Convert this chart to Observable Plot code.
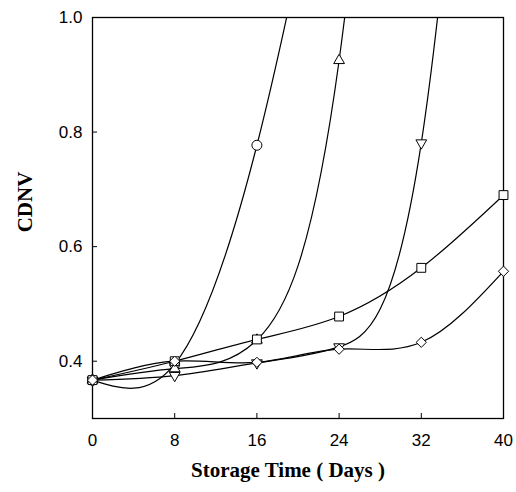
<!DOCTYPE html>
<html>
<head>
<meta charset="utf-8">
<script src="https://cdn.jsdelivr.net/npm/d3@7"></script>
<script src="https://cdn.jsdelivr.net/npm/@observablehq/plot@0.6"></script>
<style>
  html, body { margin: 0; padding: 0; background: #fff; }
  #chart { width: 516px; height: 492px; }
</style>
</head>
<body>
<div id="chart"></div>
<script>
// Storage time (days)
const days = [0, 8, 16, 24, 32, 40];
// CDNV values per treatment (values > 1.0 lie above the plotted range)
const circleVals   = [0.367, 0.395, 0.777, 1.45];
const triUpVals    = [0.367, 0.387, 0.437, 0.925, 2.5];
const triDownVals  = [0.367, 0.375, 0.397, 0.425, 0.781, 2.3];
const squareVals   = [0.367, 0.400, 0.438, 0.478, 0.563, 0.690];
const diamondVals  = [0.367, 0.400, 0.398, 0.421, 0.433, 0.557];
const xTicks = [0, 8, 16, 24, 32, 40];
const yTicks = [0.4, 0.6, 0.8, 1.0];
const xLabel = "Storage Time ( Days )";
const yLabel = "CDNV";

const seriesDefs = [
  {vals: circleVals,  symbol: "circle",   r: 5,   rotate: 0},
  {vals: triUpVals,   symbol: "triangle", r: 4,   rotate: 0},
  {vals: triDownVals, symbol: "triangle", r: 4,   rotate: 180},
  {vals: squareVals,  symbol: "square",   r: 5,   rotate: 0},
  {vals: diamondVals, symbol: "diamond2", r: 4.6, rotate: 0}
];
const toRows = vals => vals.map((v, i) => ({day: days[i], v}));

const marks = [];
for (const s of seriesDefs) {
  marks.push(Plot.line(toRows(s.vals), {x: "day", y: "v", curve: "natural", stroke: "#000", strokeWidth: 1.2, clip: true}));
}
for (const s of seriesDefs) {
  marks.push(Plot.dot(toRows(s.vals).filter(d => d.v <= 1.0), {
    x: "day", y: "v", symbol: () => s.symbol, r: s.r, rotate: s.rotate,
    fill: "#fff", stroke: "#000", strokeWidth: 1
  }));
}

const W = 516, H = 492, mL = 92, mR = 13, mT = 17, mB = 74;
const serif = "'Liberation Serif', 'Times New Roman', serif";
const chart = Plot.plot({
  width: W, height: H,
  marginLeft: mL, marginRight: mR, marginTop: mT, marginBottom: mB,
  style: {background: "#fff", color: "#000", fontFamily: "'Liberation Sans', Arial, sans-serif", fontSize: "17px"},
  x: {domain: [0, 40]},
  y: {domain: [0.3, 1.0]},
  symbol: {type: "identity"},
  marks: [
    Plot.frame({stroke: "#000", strokeWidth: 1.3}),
    Plot.axisX(xTicks, {tickSize: 0, tickPadding: 15, fontSize: 17, label: null, tickFormat: d => String(d)}),
    Plot.axisY(yTicks, {tickSize: 0, tickPadding: 10, fontSize: 17, label: null, tickFormat: d3.format(".1f")}),
    Plot.ruleX(xTicks.slice(1, -1), {x: d => d, stroke: "#000", insetTop: H - mT - mB - 5}),
    Plot.ruleY(yTicks.slice(0, -1), {y: d => d, stroke: "#000", insetRight: W - mL - mR - 5}),
    ...marks,
    Plot.text([xLabel], {frameAnchor: "bottom", dx: -10, dy: 58, text: d => d, fontSize: 21, fontWeight: "bold", fontFamily: serif}),
    Plot.text([yLabel], {frameAnchor: "left", textAnchor: "middle", lineAnchor: "middle", dx: -67, dy: -16, rotate: -90, text: d => d, fontSize: 21, fontWeight: "bold", fontFamily: serif})
  ]
});
document.getElementById("chart").appendChild(chart);
</script>
</body>
</html>
